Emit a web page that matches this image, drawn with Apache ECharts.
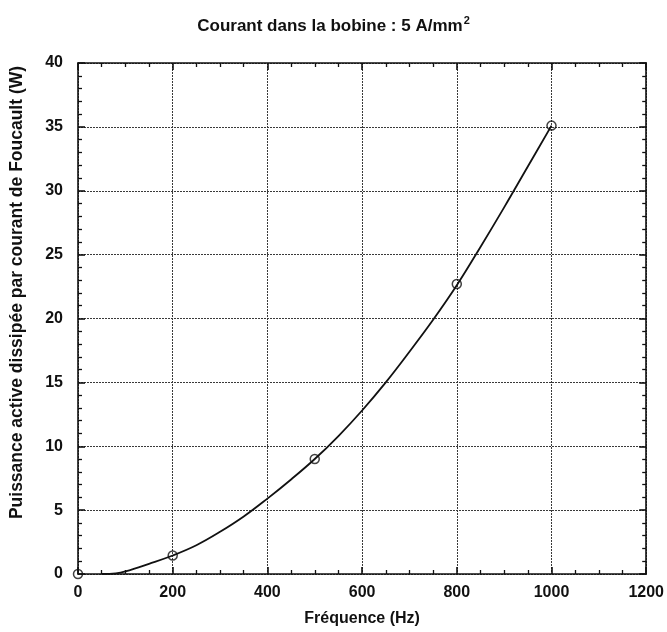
<!DOCTYPE html>
<html>
<head>
<meta charset="utf-8">
<script src="https://cdn.jsdelivr.net/npm/echarts@6/dist/echarts.min.js"></script>
<style>
html,body{margin:0;padding:0;background:#fff;}
#chart{width:667px;height:632px;}
</style>
</head>
<body>
<div id="chart"></div>
<script>
// Measured points (open circles)
const pointFreq = [0, 200, 500, 800, 1000];
const pointPower = [0, 1.45, 9.0, 22.7, 35.1];
// Fitted curve
const curveFreq = [50, 80, 100, 150, 200, 250, 300, 350, 400, 450, 500, 550, 600, 650, 700, 750, 800, 850, 900, 950, 1000];
const curvePower = [0, 0.05, 0.2, 0.8, 1.45, 2.25, 3.3, 4.5, 5.9, 7.4, 9.0, 10.8, 12.8, 15.0, 17.4, 19.9, 22.6, 25.6, 28.7, 31.9, 35.1];
const xTicks = [0, 200, 400, 600, 800, 1000, 1200];
const yTicks = [0, 5, 10, 15, 20, 25, 30, 35, 40];

const FONT = '"Liberation Sans", Arial, Helvetica, sans-serif';
const chart = echarts.init(document.getElementById('chart'));

const gridLine = {show: true, lineStyle: {color: '#3a3a3a', width: 1, type: [2, 1]}};
const axisLine = {show: true, onZero: false, lineStyle: {color: '#111', width: 1.6}};
const majorTick = {show: true, inside: true, length: 7, lineStyle: {color: '#111', width: 1.6}};

function minor(n) {
  return {show: true, splitNumber: n, length: 4, lineStyle: {color: '#111', width: 1.3}};
}

chart.setOption({
  animation: false,
  backgroundColor: '#fff',
  title: {
    text: '{t|Courant dans la bobine : 5 A/mm}{s|2}',
    left: 'center',
    top: 10,
    textStyle: {
      rich: {
        t: {fontFamily: FONT, fontWeight: 'bold', fontSize: 17, color: '#111'},
        s: {fontFamily: FONT, fontWeight: 'bold', fontSize: 11, color: '#111', verticalAlign: 'bottom', padding: [0, 0, 12, 1]}
      }
    }
  },
  grid: {left: 78, top: 63, right: 16, bottom: 54},
  xAxis: [{
    type: 'value', min: xTicks[0], max: xTicks[xTicks.length - 1], interval: 200,
    name: 'Fréquence (Hz)', nameLocation: 'middle', nameGap: 37,
    nameTextStyle: {fontFamily: FONT, fontWeight: 'bold', fontSize: 16, color: '#111'},
    axisLine: axisLine,
    axisTick: majorTick,
    minorTick: minor(4),
    axisLabel: {fontFamily: FONT, fontWeight: 'bold', fontSize: 16, color: '#111', margin: 11,
      formatter: v => String(v)},
    splitLine: gridLine
  }, {
    type: 'value', position: 'top', min: xTicks[0], max: xTicks[xTicks.length - 1], interval: 200,
    axisLine: axisLine,
    axisTick: majorTick,
    minorTick: minor(4),
    axisLabel: {show: false}, splitLine: {show: false}
  }],
  yAxis: [{
    type: 'value', min: yTicks[0], max: yTicks[yTicks.length - 1], interval: 5,
    name: 'Puissance active dissipée par courant de Foucault (W)', nameLocation: 'middle', nameGap: 52,
    nameTextStyle: {fontFamily: FONT, fontWeight: 'bold', fontSize: 17.5, color: '#111', padding: [0, 0, 0, 52]},
    axisLine: axisLine,
    axisTick: majorTick,
    minorTick: minor(5),
    axisLabel: {fontFamily: FONT, fontWeight: 'bold', fontSize: 16, color: '#111', margin: 15},
    splitLine: gridLine
  }, {
    type: 'value', position: 'right', min: yTicks[0], max: yTicks[yTicks.length - 1], interval: 5,
    axisLine: axisLine,
    axisTick: majorTick,
    minorTick: minor(5),
    axisLabel: {show: false}, splitLine: {show: false}
  }],
  series: [{
    type: 'line',
    data: curveFreq.map((f, i) => [f, curvePower[i]]),
    smooth: 0.4,
    showSymbol: false,
    lineStyle: {color: '#111', width: 1.8},
    z: 3
  }, {
    type: 'scatter',
    data: pointFreq.map((f, i) => [f, pointPower[i]]),
    symbol: 'circle',
    symbolSize: 9,
    itemStyle: {color: 'rgba(255,255,255,0)', borderColor: '#111', borderWidth: 1.5},
    z: 4,
    clip: false
  }]
});
</script>
</body>
</html>
